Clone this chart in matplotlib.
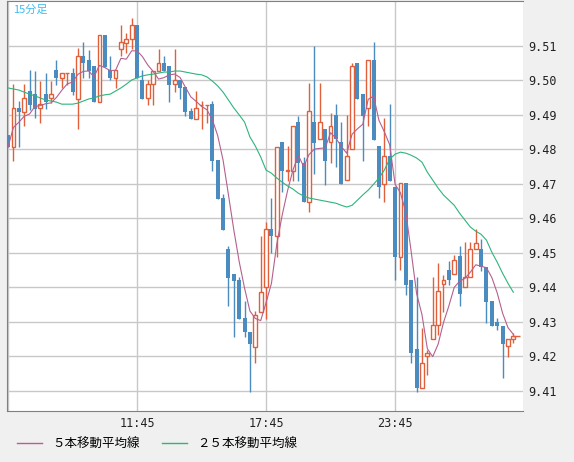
import numpy as np
import pandas as pd
import matplotlib
matplotlib.use("Agg")
import matplotlib.pyplot as plt
from matplotlib.lines import Line2D

plt.rcParams['font.family'] = ['Noto Sans CJK JP', 'DejaVu Sans']

# 15-minute candles, open / high / low / close
opens = [9.4842, 9.4807, 9.4920, 9.4908, 9.4969, 9.4960, 9.4920, 9.4960, 9.4949, 9.5030,
         9.5007, 9.5021, 9.5021, 9.4946, 9.5071, 9.5059, 9.5042, 9.4937, 9.5132, 9.5030,
         9.5007, 9.5091, 9.5108, 9.5120, 9.5160, 9.5001, 9.4949, 9.4989, 9.5027, 9.5050,
         9.5042, 9.4989, 9.5001, 9.4981, 9.4911, 9.4888, 9.4928, 9.4928, 9.4931, 9.4769,
         9.4659, 9.4511, 9.4438, 9.4421, 9.4311, 9.4270, 9.4227, 9.4328, 9.4401, 9.4569,
         9.4549, 9.4821, 9.4737, 9.4737, 9.4879, 9.4760, 9.4647, 9.4879, 9.4830, 9.4859,
         9.4821, 9.4899, 9.4821, 9.4711, 9.4801, 9.5050, 9.4960, 9.4920, 9.5059, 9.4810,
         9.4699, 9.4781, 9.4691, 9.4488, 9.4702, 9.4421, 9.4221, 9.4108, 9.4201, 9.4250,
         9.4291, 9.4409, 9.4450, 9.4438, 9.4491, 9.4401, 9.4430, 9.4511, 9.4511, 9.4459,
         9.4360, 9.4299, 9.4288, 9.4229, 9.4250]
highs = [9.4842, 9.4989, 9.4940, 9.4989, 9.5030, 9.5027, 9.4998, 9.5021, 9.4998, 9.5059,
         9.5021, 9.5021, 9.5036, 9.5094, 9.5111, 9.5088, 9.5042, 9.5132, 9.5132, 9.5071,
         9.5030, 9.5160, 9.5137, 9.5181, 9.5160, 9.5030, 9.5001, 9.5027, 9.5091, 9.5071,
         9.5042, 9.5091, 9.5001, 9.4981, 9.4920, 9.4969, 9.4940, 9.4930, 9.4940, 9.4769,
         9.4670, 9.4520, 9.4438, 9.4430, 9.4360, 9.4270, 9.4331, 9.4549, 9.4589, 9.4659,
         9.4807, 9.4821, 9.4810, 9.4868, 9.4897, 9.4778, 9.4992, 9.5100, 9.4992, 9.4859,
         9.4905, 9.4931, 9.4879, 9.4899, 9.5050, 9.5050, 9.4960, 9.5059, 9.5111, 9.4810,
         9.4891, 9.4931, 9.4691, 9.4702, 9.4702, 9.4421, 9.4430, 9.4282, 9.4218, 9.4430,
         9.4470, 9.4436, 9.4476, 9.4493, 9.4520, 9.4531, 9.4531, 9.4569, 9.4540, 9.4459,
         9.4360, 9.4311, 9.4288, 9.4250, 9.4267]
lows = [9.4807, 9.4766, 9.4807, 9.4868, 9.4914, 9.4891, 9.4876, 9.4917, 9.4934, 9.4986,
        9.4978, 9.4986, 9.4958, 9.4859, 9.5007, 9.5007, 9.4937, 9.4937, 9.5039, 9.5001,
        9.4978, 9.5071, 9.5079, 9.5091, 9.5007, 9.4946, 9.4928, 9.4928, 9.5027, 9.5027,
        9.4937, 9.4966, 9.4946, 9.4897, 9.4888, 9.4888, 9.4859, 9.4876, 9.4737, 9.4656,
        9.4566, 9.4346, 9.4256, 9.4308, 9.4256, 9.4096, 9.4180, 9.4328, 9.4308, 9.4499,
        9.4488, 9.4676, 9.4708, 9.4708, 9.4708, 9.4647, 9.4618, 9.4728, 9.4830, 9.4696,
        9.4760, 9.4749, 9.4699, 9.4711, 9.4801, 9.4946, 9.4766, 9.4868, 9.4827, 9.4659,
        9.4647, 9.4708, 9.4421, 9.4450, 9.4378, 9.4180, 9.4096, 9.4108, 9.4145, 9.4250,
        9.4262, 9.4328, 9.4407, 9.4438, 9.4346, 9.4401, 9.4430, 9.4511, 9.4447, 9.4296,
        9.4288, 9.4276, 9.4137, 9.4198, 9.4238]
closes = [9.4807, 9.4920, 9.4908, 9.4949, 9.4928, 9.4917, 9.4931, 9.4937, 9.4960, 9.5007,
          9.5021, 9.5022, 9.4966, 9.5071, 9.5050, 9.5027, 9.4937, 9.5132, 9.5039, 9.5007,
          9.5030, 9.5111, 9.5120, 9.5160, 9.5007, 9.4946, 9.4989, 9.5027, 9.5050, 9.5027,
          9.4986, 9.5001, 9.4978, 9.4908, 9.4888, 9.4920, 9.4929, 9.4929, 9.4766, 9.4656,
          9.4566, 9.4427, 9.4418, 9.4308, 9.4270, 9.4235, 9.4320, 9.4386, 9.4569, 9.4549,
          9.4807, 9.4737, 9.4740, 9.4868, 9.4760, 9.4647, 9.4911, 9.4818, 9.4879, 9.4766,
          9.4868, 9.4830, 9.4699, 9.4781, 9.5042, 9.4946, 9.4897, 9.5059, 9.4827, 9.4691,
          9.4781, 9.4708, 9.4488, 9.4702, 9.4407, 9.4209, 9.4108, 9.4180, 9.4209, 9.4291,
          9.4389, 9.4421, 9.4421, 9.4479, 9.4380, 9.4430, 9.4511, 9.4528, 9.4459, 9.4357,
          9.4288, 9.4288, 9.4235, 9.4250, 9.4259]

# 25-bar moving average
ma25 = [9.4978, 9.4975, 9.4972, 9.4966, 9.4960, 9.4955, 9.4949, 9.4943, 9.4940, 9.4937,
        9.4931, 9.4931, 9.4931, 9.4934, 9.4940, 9.4946, 9.4949, 9.4955, 9.4958, 9.4960,
        9.4969, 9.4978, 9.4989, 9.5001, 9.5007, 9.5013, 9.5016, 9.5018, 9.5021, 9.5024,
        9.5024, 9.5027, 9.5027, 9.5024, 9.5021, 9.5018, 9.5016, 9.5010, 9.4998, 9.4984,
        9.4966, 9.4943, 9.4920, 9.4900, 9.4879, 9.4836, 9.4810, 9.4778, 9.4740, 9.4731,
        9.4717, 9.4705, 9.4694, 9.4685, 9.4673, 9.4665, 9.4659, 9.4656, 9.4653, 9.4650,
        9.4647, 9.4644, 9.4638, 9.4633, 9.4638, 9.4653, 9.4668, 9.4682, 9.4699, 9.4717,
        9.4740, 9.4772, 9.4786, 9.4792, 9.4789, 9.4783, 9.4775, 9.4763, 9.4734, 9.4711,
        9.4688, 9.4668, 9.4653, 9.4638, 9.4615, 9.4595, 9.4575, 9.4563, 9.4554, 9.4537,
        9.4502, 9.4473, 9.4441, 9.4412, 9.4386]

yticks = [9.41, 9.42, 9.43, 9.44, 9.45, 9.46, 9.47, 9.48, 9.49, 9.50, 9.51]
xtick_pos = [0, 24, 48, 72]
xtick_labels = ['', '11:45', '17:45', '23:45']

UP = '#e0603c'
DOWN = '#4a8bc0'

df = pd.DataFrame({'open': opens, 'high': highs, 'low': lows, 'close': closes})
ma5 = df['close'].rolling(5, min_periods=1).mean()
x = np.arange(len(df))
up = df['close'] >= df['open']

fig = plt.figure(figsize=(5.74, 4.62), dpi=100, facecolor='#f0f0f0')
ax = fig.add_axes([0.0122, 0.1104, 0.8990, 0.8875])
ax.set_facecolor('white')

ax.vlines(x[up], df['low'][up], df['high'][up], color=UP, lw=1, zorder=2)
ax.vlines(x[~up], df['low'][~up], df['high'][~up], color=DOWN, lw=1, zorder=2)
body_lo = np.minimum(df['open'], df['close'])
body_h = np.maximum(np.abs(df['close'] - df['open']), 0.00008)
ax.bar(x[up], body_h[up], bottom=body_lo[up], width=0.7, facecolor='white',
       edgecolor=UP, lw=1, zorder=3)
ax.bar(x[~up], body_h[~up], bottom=body_lo[~up], width=0.75, color=DOWN, zorder=3)

ax.plot(x, ma5, color='#b5608f', lw=0.8, zorder=4)
ax.plot(x, ma25, color='#2db57c', lw=0.8, zorder=4)
ax.hlines(closes[-1], x[-1], x[-1] + 1.2, color=UP, lw=1, zorder=4)

ax.set_xlim(-0.19, 95.8)
ax.set_ylim(9.4042, 9.5230)
ax.set_xticks(xtick_pos)
ax.set_xticklabels(xtick_labels, fontsize=8.5, family='DejaVu Sans Mono')
ax.set_yticks(yticks)
ax.set_yticklabels(['%.2f' % v for v in yticks], fontsize=8.5, family='DejaVu Sans Mono')
ax.yaxis.tick_right()
ax.tick_params(length=0, pad=4, colors='#222222')
ax.grid(True, color='#c8c8c8', lw=1)
ax.set_axisbelow(True)
ax.spines['right'].set_visible(False)
for side in ['left', 'bottom', 'top']:
    ax.spines[side].set_color('#808080')

ax.text(0.012, 0.99, '15分足', transform=ax.transAxes, color='#3cbcf0',
        fontsize=8, va='top', ha='left')

handles = [Line2D([], [], color='#b5608f', lw=1), Line2D([], [], color='#2db57c', lw=1)]
fig.legend(handles, ['５本移動平均線', '２５本移動平均線'], loc='lower left',
           bbox_to_anchor=(0.01, 0.0), ncol=2, frameon=False, fontsize=9,
           handlelength=2.0, columnspacing=1.8)

fig.savefig('out.png', dpi=100, facecolor=fig.get_facecolor())
